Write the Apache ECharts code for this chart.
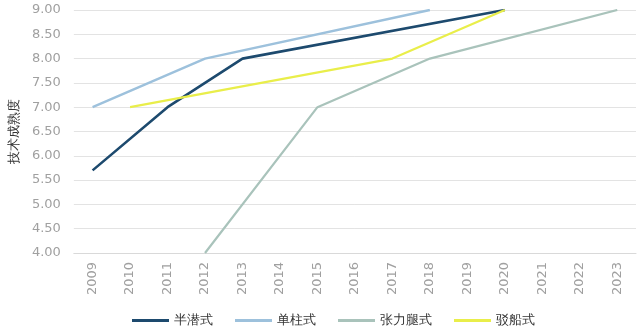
<!DOCTYPE html>
<html>
<head>
<meta charset="utf-8">
<script src="https://cdn.jsdelivr.net/npm/echarts@6/dist/echarts.min.js"></script>
<style>html,body{margin:0;padding:0;background:#fff}#c{width:640px;height:334px}</style>
</head>
<body>
<div id="c"></div>
<script>
const years = ['2009','2010','2011','2012','2013','2014','2015','2016','2017','2018','2019','2020','2021','2022','2023'];
const semiSub = [5.7, null, 7.0, null, 8.0, null, null, null, null, null, null, 9.0, null, null, null];
const spar = [7.0, null, null, 8.0, null, null, null, null, null, 9.0, null, null, null, null, null];
const tlp = [null, null, null, 4.0, null, null, 7.0, null, null, 8.0, null, null, null, null, 9.0];
const barge = [null, 7.0, null, null, null, null, null, null, 8.0, null, null, 9.0, null, null, null];
const seriesNames = ['半潜式', '单柱式', '张力腿式', '驳船式'];
const colors = ['#1d4a6e', '#9dc1dc', '#a9c3bb', '#e9ee4a'];
const widths = [2.6, 2.4, 2.2, 2.2];
const dataSets = [semiSub, spar, tlp, barge];

const chart = echarts.init(document.getElementById('c'));
chart.setOption({
  animation: false,
  grid: { left: 72, right: 4, top: 10, bottom: 81 },
  legend: {
    bottom: 2,
    left: 127,
    itemWidth: 37,
    itemHeight: 3,
    itemGap: 22,
    icon: 'rect',
    textStyle: { fontSize: 13, color: '#333' },
    data: seriesNames
  },
  xAxis: {
    type: 'category',
    data: years,
    boundaryGap: true,
    axisLine: { lineStyle: { color: '#d9d9d9' } },
    axisTick: { show: false },
    axisLabel: { rotate: 90, color: '#a0a0a0', fontSize: 13, fontFamily: 'DejaVu Sans', margin: 9 }
  },
  yAxis: {
    type: 'value',
    min: 4,
    max: 9,
    interval: 0.5,
    name: '技术成熟度',
    nameLocation: 'middle',
    nameRotate: 90,
    nameGap: 46,
    nameTextStyle: { fontSize: 13, color: '#333' },
    axisLine: { show: false },
    axisTick: { show: false },
    axisLabel: { color: '#a0a0a0', fontSize: 13, fontFamily: 'DejaVu Sans', margin: 13, formatter: v => v.toFixed(2) },
    splitLine: { lineStyle: { color: '#e3e3e3' } }
  },
  series: dataSets.map((d, i) => ({
    name: seriesNames[i],
    type: 'line',
    data: d,
    connectNulls: true,
    showSymbol: false,
    symbol: 'none',
    itemStyle: { color: colors[i] },
    lineStyle: { color: colors[i], width: widths[i] }
  }))
});
</script>
</body>
</html>
